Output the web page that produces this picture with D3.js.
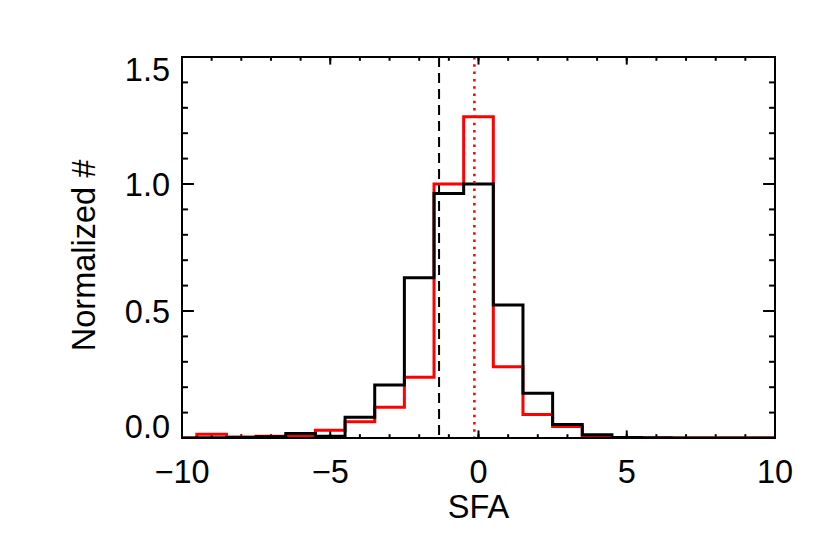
<!DOCTYPE html>
<html>
<head>
<meta charset="utf-8">
<script src="https://cdn.jsdelivr.net/npm/d3@7"></script>
<style>
  body { margin: 0; background: #fff; }
  svg { display: block; }
  text { font-family: "Liberation Sans", Arial, Helvetica, sans-serif; fill: #000; }
</style>
</head>
<body>
<script>
const width = 830;
const height = 554;
const margin = { top: 57, right: 55, bottom: 116, left: 182 };

// bin centres of the histogram (SFA), width 1
const binCenters = d3.range(-10, 11);
// black histogram
const blackCounts = [0, 0.001, 0.002, 0.005, 0.018, 0.007, 0.082, 0.209, 0.631, 0.963, 1.0,
  0.524, 0.176, 0.053, 0.013, 0.002, 0.001, 0, 0, 0, 0];
// red histogram
const redCounts = [0, 0.015, 0.004, 0.007, 0.010, 0.031, 0.064, 0.121, 0.239, 1.0, 1.265,
  0.281, 0.093, 0.045, 0.003, 0.002, 0, 0, 0, 0, 0];
// mean markers
const blackMean = -1.33;
const redMean = -0.14;

const xMajor = [-10, -5, 0, 5, 10];
const xMinor = d3.range(-10, 11, 1);
const yMajor = [0, 0.5, 1.0, 1.5];
const yMinor = d3.range(0, 1.51, 0.1);

const x = d3.scaleLinear().domain([-10, 10]).range([margin.left, width - margin.right]);
const y = d3.scaleLinear().domain([0, 1.5]).range([height - margin.bottom, margin.top]);

const fs = 32.5;

const svg = d3.select("body").append("svg")
  .attr("width", width)
  .attr("height", height);

svg.append("defs").append("clipPath").attr("id", "clip")
  .append("rect")
  .attr("x", x(-10)).attr("y", y(1.5))
  .attr("width", x(10) - x(-10)).attr("height", y(0) - y(1.5));

const xLen = 7.6, yLen = 11.9;

// ticks (inward, on all four sides)
const ticks = svg.append("g").attr("stroke", "#000").attr("stroke-width", 2);
function tickLines(vals, len, isX) {
  ticks.append("g").selectAll("line").data(vals).enter().append("line")
    .attr("x1", d => isX ? x(d) : x(-10))
    .attr("x2", d => isX ? x(d) : x(-10) + len)
    .attr("y1", d => isX ? y(0) : y(d))
    .attr("y2", d => isX ? y(0) - len : y(d));
  ticks.append("g").selectAll("line").data(vals).enter().append("line")
    .attr("x1", d => isX ? x(d) : x(10))
    .attr("x2", d => isX ? x(d) : x(10) - len)
    .attr("y1", d => isX ? y(1.5) : y(d))
    .attr("y2", d => isX ? y(1.5) + len : y(d));
}
tickLines(xMinor, xLen / 2, true);
tickLines(xMajor, xLen, true);
tickLines(yMinor, yLen / 2, false);
tickLines(yMajor, yLen, false);

const line = d3.line()
  .x((d, i) => x(binCenters[i]))
  .y(d => y(d))
  .curve(d3.curveStep);

const plot = svg.append("g").attr("clip-path", "url(#clip)");

plot.append("path")
  .attr("d", line(redCounts))
  .attr("fill", "none")
  .attr("stroke", "#ff0000")
  .attr("stroke-width", 3);

plot.append("path")
  .attr("d", line(blackCounts))
  .attr("fill", "none")
  .attr("stroke", "#000")
  .attr("stroke-width", 3);

plot.append("line")
  .attr("x1", x(blackMean)).attr("x2", x(blackMean))
  .attr("y1", y(1.5)).attr("y2", y(0))
  .attr("stroke", "#000")
  .attr("stroke-width", 2)
  .attr("stroke-dasharray", "10,6");

plot.append("line")
  .attr("x1", x(redMean)).attr("x2", x(redMean))
  .attr("y1", y(1.5)).attr("y2", y(0))
  .attr("stroke", "#ff0000")
  .attr("stroke-width", 2.5)
  .attr("stroke-dasharray", "2.5,4.8");

// frame
svg.append("rect")
  .attr("x", x(-10)).attr("y", y(1.5))
  .attr("width", x(10) - x(-10)).attr("height", y(0) - y(1.5))
  .attr("fill", "none")
  .attr("stroke", "#000")
  .attr("stroke-width", 2);

// tick labels
const fmtX = d3.format("d");
svg.append("g").selectAll("text").data(xMajor).enter().append("text")
  .attr("x", d => x(d))
  .attr("y", 482.5)
  .attr("text-anchor", "middle")
  .attr("font-size", fs)
  .text(d => fmtX(d));

// end labels are kept inside the axis span, the others are centred on their tick
svg.append("g").selectAll("text").data(yMajor).enter().append("text")
  .attr("x", x(-10) - 12)
  .attr("y", d => y(d))
  .attr("dy", d => d === 0 ? "0em" : d === 1.5 ? "0.73em" : "0.36em")
  .attr("text-anchor", "end")
  .attr("font-size", fs)
  .text(d => d3.format(".1f")(d));

// axis titles
svg.append("text")
  .attr("x", x(0))
  .attr("y", 518)
  .attr("text-anchor", "middle")
  .attr("font-size", fs)
  .text("SFA");

svg.append("text")
  .attr("transform", `translate(95,${(y(0) + y(1.5)) / 2 + 8}) rotate(-90)`)
  .attr("text-anchor", "middle")
  .attr("font-size", fs)
  .text("Normalized #");
</script>
</body>
</html>
